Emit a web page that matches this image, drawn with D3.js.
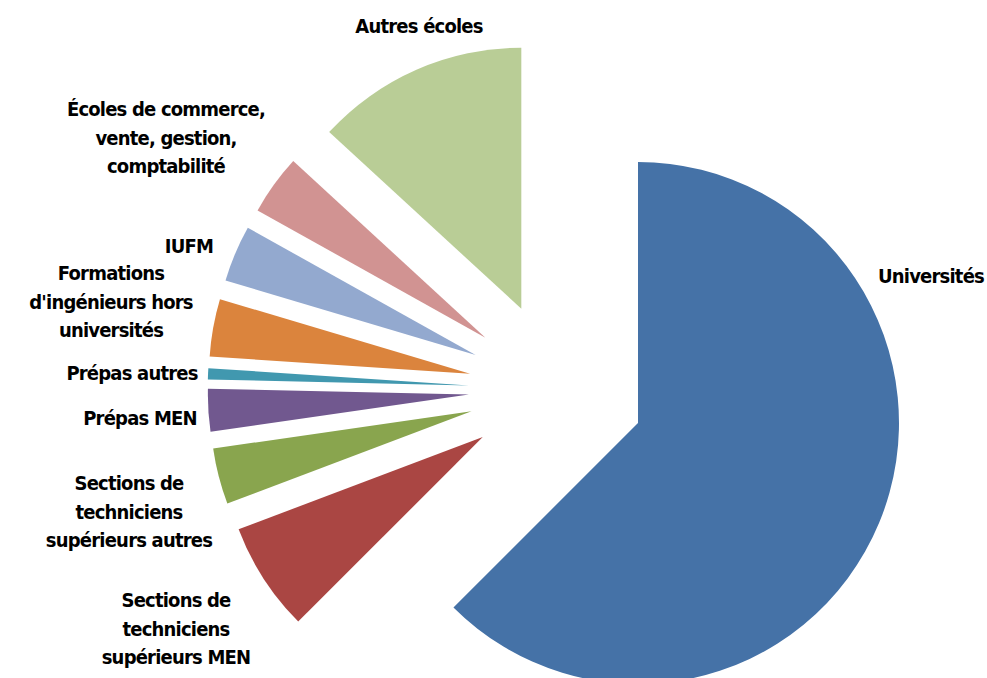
<!DOCTYPE html>
<html>
<head>
<meta charset="utf-8">
<script src="https://cdn.jsdelivr.net/npm/d3@7"></script>
<style>
html,body{margin:0;padding:0;background:#fff;}
svg{display:block;}
.lbl{font-family:"DejaVu Sans Condensed","Liberation Sans Narrow","Liberation Sans",sans-serif;font-weight:bold;font-size:20px;letter-spacing:-0.8px;fill:#000;}
</style>
</head>
<body>
<svg id="chart" width="987" height="678"></svg>
<script>
// Data (share of students, %)
const categories = [
  "Universités",
  "Sections de techniciens supérieurs MEN",
  "Sections de techniciens supérieurs autres",
  "Prépas MEN",
  "Prépas autres",
  "Formations d'ingénieurs hors universités",
  "IUFM",
  "Écoles de commerce, vente, gestion, comptabilité",
  "Autres écoles"
];
const values = [62.5, 6.75, 3.47, 2.64, 0.69, 3.56, 3.5, 3.72, 13.17];
const labelLines = [
  ["Universités"],
  ["Sections de", "techniciens", "supérieurs MEN"],
  ["Sections de", "techniciens", "supérieurs autres"],
  ["Prépas MEN"],
  ["Prépas autres"],
  ["Formations", "d'ingénieurs hors", "universités"],
  ["IUFM"],
  ["Écoles de commerce,", "vente, gestion,", "comptabilité"],
  ["Autres écoles"]
];
const colors = ["#4572A7","#AA4643","#89A54E","#71588F","#4198AF","#DB843D","#93A9CF","#D19392","#B9CD96"];

// Layout
const cx = 556.7, cy = 389.3, radius = 261, explode = 88;
// label anchor positions (center x, first baseline y)
const labelPos = [
  [931, 283], [176, 607], [129, 490], [140, 425], [132, 380],
  [111, 280], [189, 253], [166, 116], [419, 33]
];
const lineGap = 28.5;

const svg = d3.select("#chart");
const g = svg.append("g").attr("transform", `translate(${cx},${cy})`);

const data = categories.map((c, i) => ({name: c, value: values[i], i}));
const pie = d3.pie().value(d => d.value).sort(null);
const arc = d3.arc().innerRadius(0).outerRadius(radius);
const arcs = pie(data);

g.selectAll("path.slice").data(arcs).join("path")
  .attr("class", "slice")
  .attr("fill", d => colors[d.data.i])
  .attr("transform", d => {
    const m = (d.startAngle + d.endAngle) / 2;
    return `translate(${Math.sin(m) * explode},${-Math.cos(m) * explode})`;
  })
  .attr("d", arc);

const lg = svg.append("g");
arcs.forEach(d => {
  const [x, y] = labelPos[d.data.i];
  const t = lg.append("text").attr("class", "lbl").attr("text-anchor", "middle");
  labelLines[d.data.i].forEach((ln, k) => {
    t.append("tspan").attr("x", x).attr("y", y + k * lineGap).text(ln);
  });
});
</script>
</body>
</html>
